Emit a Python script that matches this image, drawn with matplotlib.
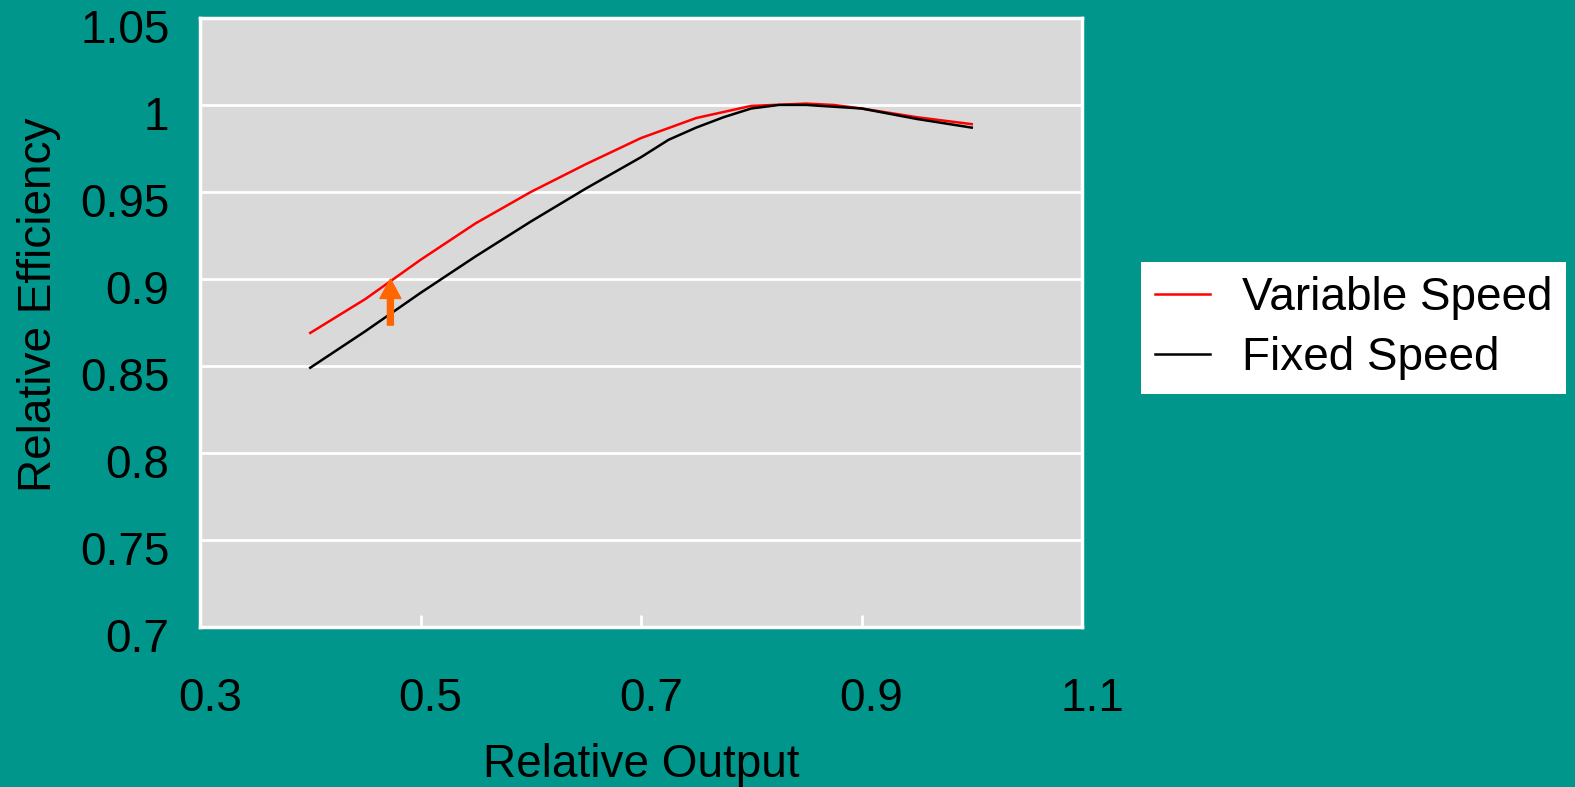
import matplotlib
matplotlib.use('Agg')
import matplotlib.pyplot as plt
import matplotlib.transforms as mtrans

# *** Data *** #
var_x = [0.4, 0.45, 0.5, 0.55, 0.6, 0.65, 0.7, 0.75, 0.8, 0.85, 0.875, 0.9, 0.95, 1.0]
var_y = [0.869, 0.8885, 0.911, 0.932, 0.950, 0.966, 0.981, 0.9925, 0.9995, 1.0008, 1.0, 0.998, 0.993, 0.989]

fix_x = [0.4, 0.45, 0.5, 0.55, 0.6, 0.65, 0.7, 0.725, 0.75, 0.775, 0.8, 0.825, 0.85, 0.875, 0.9, 0.95, 1.0]
fix_y = [0.849, 0.870, 0.892, 0.913, 0.933, 0.952, 0.970, 0.980, 0.987, 0.993, 0.998, 1.0, 1.0, 0.999, 0.998, 0.992, 0.987]

arrow_x = 0.4727
arrow_from = 0.8735
arrow_to = 0.9

x_ticks = [0.3, 0.5, 0.7, 0.9, 1.1]
x_tick_labels = ['0.3', '0.5', '0.7', '0.9', '1.1']
y_ticks = [0.7, 0.75, 0.8, 0.85, 0.9, 0.95, 1.0, 1.05]
y_tick_labels = ['0.7', '0.75', '0.8', '0.85', '0.9', '0.95', '1', '1.05']

teal = '#00968C'
fs = 33
plt.rcParams['font.family'] = ['Liberation Sans', 'DejaVu Sans']

fig = plt.figure(figsize=(15.75, 7.87), dpi=100, facecolor=teal)
ax = fig.add_axes([200 / 1575, 1 - 627 / 787, 882 / 1575, 609 / 787])
ax.set_facecolor('#D9D9D9')

ax.plot(var_x, var_y, color='#FF0000', linewidth=1.8, label='Variable Speed')
ax.plot(fix_x, fix_y, color='black', linewidth=1.8, label='Fixed Speed')

# orange arrow
ax.annotate('', xy=(arrow_x, arrow_to), xytext=(arrow_x, arrow_from),
            arrowprops=dict(width=4.3, headwidth=15, headlength=14, color='#FF6600', shrink=0))

ax.set_xlim(0.3, 1.1)
ax.set_ylim(0.7, 1.05)
ax.set_xticks(x_ticks)
ax.set_xticklabels(x_tick_labels)
ax.set_yticks(y_ticks)
ax.set_yticklabels(y_tick_labels)
ax.yaxis.grid(True, color='white', linewidth=2)
ax.set_axisbelow(True)

for s in ax.spines.values():
    s.set_color('white')
    s.set_linewidth(2.5)

ax.tick_params(axis='x', direction='in', length=9, width=2, color='white', pad=36, labelsize=fs)
ax.tick_params(axis='y', length=0, pad=22, labelsize=fs)

# shift tick labels a little, like the original
dx = mtrans.ScaledTranslation(10 / 100, 0, fig.dpi_scale_trans)
for lbl in ax.get_xticklabels():
    lbl.set_transform(lbl.get_transform() + dx)
dy = mtrans.ScaledTranslation(0, -8 / 100, fig.dpi_scale_trans)
for lbl in ax.get_yticklabels():
    lbl.set_transform(lbl.get_transform() + dy)

ax.set_xlabel('Relative Output', fontsize=fs, labelpad=16)
ax.set_ylabel('Relative Efficiency', fontsize=fs)
ax.yaxis.set_label_coords(-0.158, 0.529)

leg = ax.legend(loc='center left', bbox_to_anchor=(1141 / 1575, 1 - 328 / 787),
                bbox_transform=fig.transFigure, fontsize=fs, frameon=True,
                fancybox=False, framealpha=1, edgecolor='white', handlelength=1.2,
                handletextpad=0.7, labelspacing=0.35, borderpad=0.3, borderaxespad=0)
leg.get_frame().set_linewidth(0)

fig.savefig('out.png', dpi=100, facecolor=teal)
